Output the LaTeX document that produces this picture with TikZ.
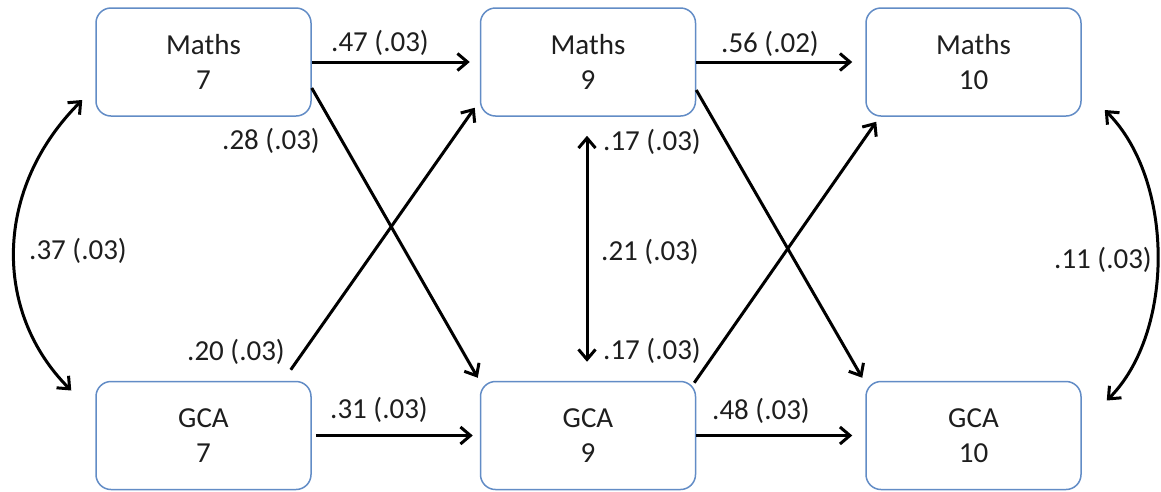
\documentclass[tikz,border=0pt]{standalone}
\usepackage{fontspec}
\setmainfont{Carlito}
\usetikzlibrary{arrows.meta,calc}
\definecolor{boxblue}{RGB}{98,140,198}
\definecolor{txt}{RGB}{30,30,30}
\begin{document}
\begin{tikzpicture}[x=1pt,y=-1pt,
  box/.style={draw=boxblue, line width=1.5pt, rounded corners=15pt, minimum width=215pt, minimum height=108pt, align=center, font=\fontsize{29}{35}\selectfont, text=txt, inner sep=0pt, fill=white},
  lbl/.style={font=\fontsize{29}{35}\selectfont, text=txt, inner sep=0pt},
  tip/.tip={Straight Barb[length=10pt,width=17pt]},
  conn/.style={line width=3pt, -tip},
  bconn/.style={line width=3pt, tip-tip}]
\useasboundingbox[fill=white] (0,0) rectangle (1161,491);

\node[box] (m7) at (203.5,62) {Maths\\7};
\node[box] (m9) at (588,62) {Maths\\9};
\node[box] (m10) at (973.5,62) {Maths\\10};
\node[box] (g7) at (203.5,435.5) {GCA\\7};
\node[box] (g9) at (588,435.5) {GCA\\9};
\node[box] (g10) at (973.5,435.5) {GCA\\10};

\draw[conn, shorten >=10pt] (m7) -- (m9);
\draw[conn, shorten >=13pt] (m9) -- (m10);
\draw[conn, shorten <=4pt, shorten >=7pt] (g7) -- (g9);
\draw[conn, shorten >=13pt] (g9) -- (g10);

\draw[conn] ([shift={(0,26)}]m7.east) -- ([shift={(-2,-3)}]g9.north west);
\draw[conn] ([shift={(-21,-11)}]g7.north east) -- ([shift={(-5,-9)}]m9.south west);
\draw[conn] ([shift={(0,28)}]m9.east) -- ([shift={(-3,-3)}]g10.north west);
\draw[conn] ([shift={(-2,2)}]g9.north east) -- ([shift={(11,5)}]m10.south west);

\draw[bconn] ([shift={(-1,19)}]m9.south) -- ([shift={(-1,-19)}]g9.north);

\draw[bconn] ([shift={(-13,38)}]m7.west) .. controls +(-89,89) and +(-78,-78) .. ([shift={(-24,-45)}]g7.west);
\draw[bconn] ([shift={(23,48)}]m10.east) .. controls +(70,70) and +(68,-68) .. ([shift={(25,-35)}]g10.east);

\node[lbl] (l1) at (380,43) {.47 (.03)};
\node[lbl] (l2) at (770,44) {.56 (.02)};
\node[lbl] (l3) at (271,141) {.28 (.03)};
\node[lbl] (l4) at (236,352) {.20 (.03)};
\node[lbl] (l5) at (379,410) {.31 (.03)};
\node[lbl] (l6) at (761,411) {.48 (.03)};
\node[lbl] (l7) at (652,142) {.17 (.03)};
\node[lbl] (l8) at (650,252) {.21 (.03)};
\node[lbl] (l9) at (652,351) {.17 (.03)};
\node[lbl] (l10) at (78,251) {.37 (.03)};
\node[lbl] (l11) at (1103,260) {.11 (.03)};
\end{tikzpicture}
\end{document}
